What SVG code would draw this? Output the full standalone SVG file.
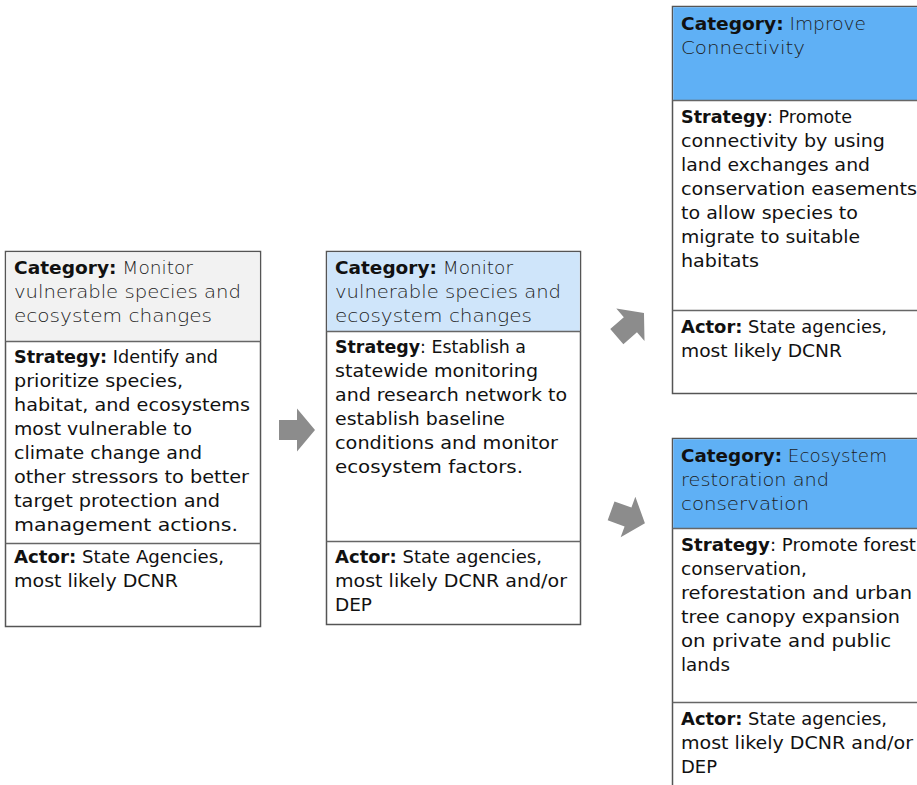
<svg xmlns="http://www.w3.org/2000/svg" width="917" height="785" viewBox="0 0 917 785">
  <style>
    text { font-family: "DejaVu Sans", "Noto Sans", "Liberation Sans", sans-serif; font-size: 18px; fill: #111; }
    .lbl { font-weight: 700; }
    .cat { font-weight: 300; fill: #1c1c1c; }
    .frame { fill: #fff; stroke: #555; stroke-width: 1.5; }
    .div { stroke: #666; stroke-width: 1.5; }
    .arrow { fill: #8c8c8c; }
  </style>
  <defs>
    <path id="blockArrow" d="M -18 -10 H 0 V -21.5 L 18 0 L 0 21.5 V 10 H -18 Z"/>
  </defs>

  <!-- Stage 1: monitoring of vulnerable species -->
  <g id="node-identify">
    <rect class="frame" x="5.5" y="251.5" width="255" height="375"/>
    <rect x="6.25" y="252.25" width="253.5" height="89" fill="#f2f2f2"/>
    <line class="div" x1="5.5" y1="341.5" x2="260.5" y2="341.5"/>
    <line class="div" x1="5.5" y1="543.5" x2="260.5" y2="543.5"/>
    <text x="14" y="274" textLength="179" lengthAdjust="spacingAndGlyphs"><tspan class="lbl">Category:</tspan><tspan class="cat"> Monitor</tspan></text>
    <text class="cat" x="14" y="298" textLength="227" lengthAdjust="spacingAndGlyphs">vulnerable species and</text>
    <text class="cat" x="14" y="322" textLength="198" lengthAdjust="spacingAndGlyphs">ecosystem changes</text>
    <text x="14" y="363" textLength="204" lengthAdjust="spacingAndGlyphs"><tspan class="lbl">Strategy:</tspan> Identify and</text>
    <text x="14" y="387" textLength="169" lengthAdjust="spacingAndGlyphs">prioritize species,</text>
    <text x="14" y="411" textLength="236" lengthAdjust="spacingAndGlyphs">habitat, and ecosystems</text>
    <text x="14" y="435" textLength="178" lengthAdjust="spacingAndGlyphs">most vulnerable to</text>
    <text x="14" y="459" textLength="188" lengthAdjust="spacingAndGlyphs">climate change and</text>
    <text x="14" y="483" textLength="235" lengthAdjust="spacingAndGlyphs">other stressors to better</text>
    <text x="14" y="507" textLength="206" lengthAdjust="spacingAndGlyphs">target protection and</text>
    <text x="14" y="531" textLength="224" lengthAdjust="spacingAndGlyphs">management actions.</text>
    <text x="14" y="563" textLength="210" lengthAdjust="spacingAndGlyphs"><tspan class="lbl">Actor:</tspan> State Agencies,</text>
    <text x="14" y="587" textLength="164" lengthAdjust="spacingAndGlyphs">most likely DCNR</text>
  </g>

  <!-- Stage 2: statewide monitoring network -->
  <g id="node-network">
    <rect class="frame" x="326.5" y="251.5" width="254" height="373"/>
    <rect x="327.25" y="252.25" width="252.5" height="79" fill="#cfe5fa"/>
    <line class="div" x1="326.5" y1="331.5" x2="580.5" y2="331.5"/>
    <line class="div" x1="326.5" y1="541.5" x2="580.5" y2="541.5"/>
    <text x="335" y="274" textLength="178" lengthAdjust="spacingAndGlyphs"><tspan class="lbl">Category:</tspan><tspan class="cat"> Monitor</tspan></text>
    <text class="cat" x="335" y="298" textLength="226" lengthAdjust="spacingAndGlyphs">vulnerable species and</text>
    <text class="cat" x="335" y="322" textLength="197" lengthAdjust="spacingAndGlyphs">ecosystem changes</text>
    <text x="335" y="353" textLength="191" lengthAdjust="spacingAndGlyphs"><tspan class="lbl">Strategy</tspan>: Establish a</text>
    <text x="335" y="377" textLength="203" lengthAdjust="spacingAndGlyphs">statewide monitoring</text>
    <text x="335" y="401" textLength="232" lengthAdjust="spacingAndGlyphs">and research network to</text>
    <text x="335" y="425" textLength="170" lengthAdjust="spacingAndGlyphs">establish baseline</text>
    <text x="335" y="449" textLength="223" lengthAdjust="spacingAndGlyphs">conditions and monitor</text>
    <text x="335" y="473" textLength="188" lengthAdjust="spacingAndGlyphs">ecosystem factors.</text>
    <text x="335" y="563" textLength="207" lengthAdjust="spacingAndGlyphs"><tspan class="lbl">Actor:</tspan> State agencies,</text>
    <text x="335" y="587" textLength="232" lengthAdjust="spacingAndGlyphs">most likely DCNR and/or</text>
    <text x="335" y="611" textLength="37" lengthAdjust="spacingAndGlyphs">DEP</text>
  </g>

  <!-- Stage 3a: connectivity -->
  <g id="node-connectivity">
    <rect class="frame" x="672.5" y="6.5" width="260" height="387"/>
    <rect x="673.25" y="7.25" width="260" height="93" fill="#5fb0f5"/>
    <line class="div" x1="672.5" y1="100.5" x2="917" y2="100.5"/>
    <line class="div" x1="672.5" y1="310.5" x2="917" y2="310.5"/>
    <text x="681" y="30" textLength="185" lengthAdjust="spacingAndGlyphs"><tspan class="lbl">Category:</tspan><tspan class="cat"> Improve</tspan></text>
    <text class="cat" x="681" y="54" textLength="124" lengthAdjust="spacingAndGlyphs">Connectivity</text>
    <text x="681" y="123" textLength="171" lengthAdjust="spacingAndGlyphs"><tspan class="lbl">Strategy</tspan>: Promote</text>
    <text x="681" y="147" textLength="204" lengthAdjust="spacingAndGlyphs">connectivity by using</text>
    <text x="681" y="171" textLength="189" lengthAdjust="spacingAndGlyphs">land exchanges and</text>
    <text x="681" y="195" textLength="236" lengthAdjust="spacingAndGlyphs">conservation easements</text>
    <text x="681" y="219" textLength="177" lengthAdjust="spacingAndGlyphs">to allow species to</text>
    <text x="681" y="243" textLength="179" lengthAdjust="spacingAndGlyphs">migrate to suitable</text>
    <text x="681" y="267" textLength="78" lengthAdjust="spacingAndGlyphs">habitats</text>
    <text x="681" y="333" textLength="206" lengthAdjust="spacingAndGlyphs"><tspan class="lbl">Actor:</tspan> State agencies,</text>
    <text x="681" y="357" textLength="161" lengthAdjust="spacingAndGlyphs">most likely DCNR</text>
  </g>

  <!-- Stage 3b: restoration -->
  <g id="node-restoration">
    <rect class="frame" x="672.5" y="438.5" width="260" height="360"/>
    <rect x="673.25" y="439.25" width="260" height="89" fill="#5fb0f5"/>
    <line class="div" x1="672.5" y1="528.5" x2="917" y2="528.5"/>
    <line class="div" x1="672.5" y1="702.5" x2="917" y2="702.5"/>
    <text x="681" y="462" textLength="206" lengthAdjust="spacingAndGlyphs"><tspan class="lbl">Category:</tspan><tspan class="cat"> Ecosystem</tspan></text>
    <text class="cat" x="681" y="486" textLength="148" lengthAdjust="spacingAndGlyphs">restoration and</text>
    <text class="cat" x="681" y="510" textLength="128" lengthAdjust="spacingAndGlyphs">conservation</text>
    <text x="681" y="551" textLength="235" lengthAdjust="spacingAndGlyphs"><tspan class="lbl">Strategy</tspan>: Promote forest</text>
    <text x="681" y="575" textLength="126" lengthAdjust="spacingAndGlyphs">conservation,</text>
    <text x="681" y="599" textLength="231" lengthAdjust="spacingAndGlyphs">reforestation and urban</text>
    <text x="681" y="623" textLength="219" lengthAdjust="spacingAndGlyphs">tree canopy expansion</text>
    <text x="681" y="647" textLength="210" lengthAdjust="spacingAndGlyphs">on private and public</text>
    <text x="681" y="671" textLength="49" lengthAdjust="spacingAndGlyphs">lands</text>
    <text x="681" y="725" textLength="206" lengthAdjust="spacingAndGlyphs"><tspan class="lbl">Actor:</tspan> State agencies,</text>
    <text x="681" y="749" textLength="232" lengthAdjust="spacingAndGlyphs">most likely DCNR and/or</text>
    <text x="681" y="773" textLength="36" lengthAdjust="spacingAndGlyphs">DEP</text>
  </g>

  <!-- Block arrows between stages -->
  <g id="connectors">
    <use href="#blockArrow" class="arrow" transform="translate(297 430)"/>
    <use href="#blockArrow" class="arrow" transform="translate(630.4 324.8) rotate(-41)"/>
    <use href="#blockArrow" class="arrow" transform="translate(628 517) rotate(20)"/>
  </g>
</svg>
